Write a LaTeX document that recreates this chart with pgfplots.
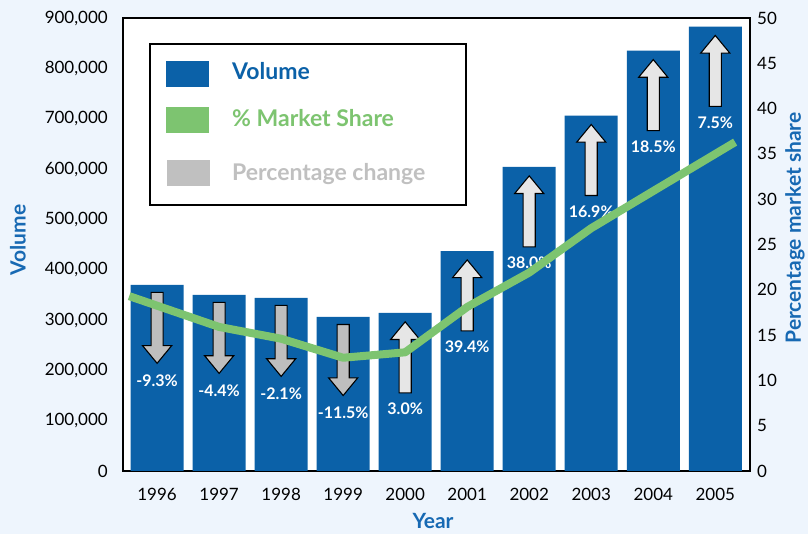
\documentclass[border=0pt]{standalone}
\usepackage{fontspec}
\setmainfont{Lato}
\usepackage{pgfplots}
\pgfplotsset{compat=1.18}
\usepackage{pgfplotstable}
\usetikzlibrary{shapes.arrows}

\definecolor{bg}{HTML}{EEF5FD}
\definecolor{barblue}{HTML}{0B61A8}
\definecolor{labblue}{HTML}{1769B3}
\definecolor{sharegreen}{HTML}{7DC470}
\definecolor{downgray}{HTML}{BEBEBE}
\definecolor{upgray}{HTML}{E6E6E6}
\definecolor{leggray}{HTML}{C0C0C0}

\tikzset{arrowstyle/.style={single arrow, draw=black, line width=1.1pt,
    minimum height=71pt, minimum width=28pt, inner sep=5.5pt,
    single arrow head extend=8.5pt, single arrow tip angle=79}}

\pgfplotstableread{
x vol pct
0 370000 -9.3
1 350000 -4.4
2 344000 -2.1
3 306000 -11.5
4 314000 3.0
5 437000 39.4
6 604000 38.0
7 706000 16.9
8 835000 18.5
9 883000 7.5
}\voldata

\pgfplotstableread{
x share
-0.45 19.3
1 15.9
2 14.6
3 12.5
4 13.1
5 18.1
6 21.9
7 26.8
8 30.9
9.32 36.3
}\sharedata

\begin{document}
\begin{tikzpicture}
\fill[bg, use as bounding box] (-123pt,-63pt) rectangle (685pt,471pt);
\begin{axis}[
  at={(0pt,0pt)}, anchor=south west,
  scale only axis, width=627pt, height=453pt,
  xmin=-0.55, xmax=9.56,
  ymin=0, ymax=900000,
  xtick={0,1,2,3,4,5,6,7,8,9},
  xticklabels={1996,1997,1998,1999,2000,2001,2002,2003,2004,2005},
  ytick={0,100000,200000,300000,400000,500000,600000,700000,800000,900000},
  scaled y ticks=false,
  /pgf/number format/assume math mode=true,
  yticklabel style={/pgf/number format/fixed, /pgf/number format/1000 sep={,}, anchor=east, xshift=-15pt},
  xticklabel style={anchor=north, yshift=-17pt},
  tick label style={font=\fontsize{17}{20}\selectfont, inner sep=0pt},
  major tick length=0pt,
  axis line style={line width=2.2pt, black},
  axis background/.style={fill=white},
  clip=false,
]
\addplot[ybar, bar width=53pt, bar shift=0pt, fill=barblue, draw=none] table[x=x,y=vol]{\voldata};
\addplot[draw=none, restrict x to domain=0:3, nodes near coords={},
  every node near coord/.style={arrowstyle, fill=downgray,
    shape border rotate=270, anchor=tail, yshift=-7pt}]
  table[x=x,y=vol]{\voldata};
\addplot[draw=none, restrict x to domain=4:9, nodes near coords={},
  every node near coord/.style={arrowstyle, fill=upgray,
    shape border rotate=90, anchor=tip, yshift=-8pt}]
  table[x=x,y=vol]{\voldata};
\addplot[draw=none, point meta=explicit symbolic, nodes near coords={\pgfplotspointmeta\%},
  every node near coord/.style={font=\bfseries\fontsize{16}{18}\selectfont, text=white,
    anchor=center, yshift=-96pt, inner sep=0pt}]
  table[x=x,y=vol,meta=pct]{\voldata};
\end{axis}
\begin{axis}[
  at={(0pt,0pt)}, anchor=south west,
  scale only axis, width=627pt, height=453pt,
  xmin=-0.55, xmax=9.56,
  ymin=0, ymax=50,
  ytick={0,5,10,15,20,25,30,35,40,45,50},
  axis x line=none, axis y line*=right,
  /pgf/number format/assume math mode=true,
  yticklabel style={anchor=west, xshift=7pt, font=\fontsize{17}{20}\selectfont, inner sep=0pt},
  major tick length=0pt,
  axis line style={line width=2.2pt, black},
  clip=false,
]
\addplot[sharegreen, line width=8pt, line join=round] table[x=x,y=share]{\sharedata};
\end{axis}
\node[rotate=90, font=\bfseries\fontsize{21}{24}\selectfont, text=labblue] at (-105pt,231pt) {Volume};
\node[rotate=90, font=\bfseries\fontsize{21}{24}\selectfont, text=labblue] at (672pt,243pt) {Percentage market share};
\node[font=\bfseries\fontsize{21}{24}\selectfont, text=labblue] at (310pt,-50pt) {Year};
\draw[line width=1.3pt, fill=white] (27pt,427pt) rectangle (343pt,266pt);
\fill[barblue] (43pt,410pt) rectangle (86pt,384pt);
\fill[sharegreen] (43pt,364pt) rectangle (86pt,338pt);
\fill[leggray] (44pt,311pt) rectangle (87pt,285pt);
\node[anchor=base west, inner sep=0pt, font=\bfseries\fontsize{23}{26}\selectfont, text=barblue] at (109pt,391pt) {Volume};
\node[anchor=base west, inner sep=0pt, font=\bfseries\fontsize{23}{26}\selectfont, text=sharegreen] at (109pt,344pt) {\% Market Share};
\node[anchor=base west, inner sep=0pt, font=\bfseries\fontsize{23}{26}\selectfont, text=leggray] at (109pt,290pt) {Percentage change};
\end{tikzpicture}
\end{document}
